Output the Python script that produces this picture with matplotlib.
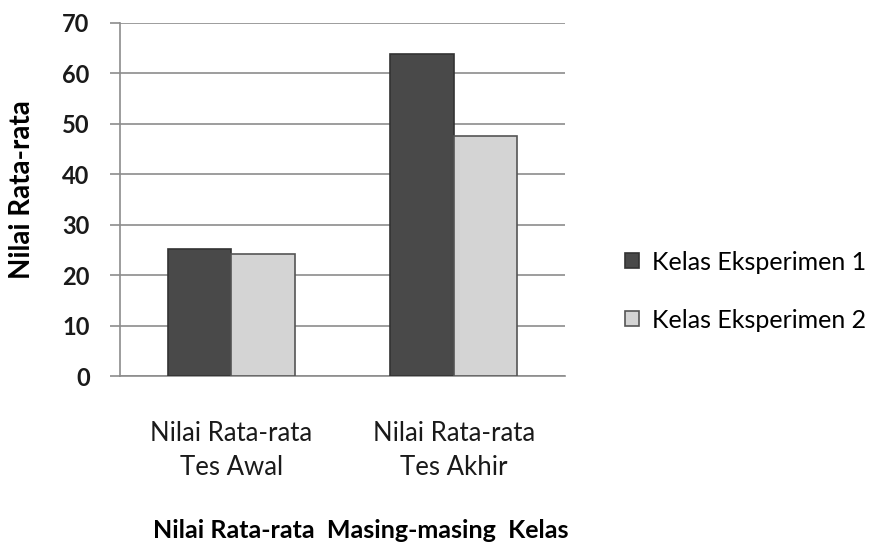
import matplotlib
matplotlib.use("Agg")
import matplotlib.pyplot as plt
import numpy as np

categories = ["Nilai Rata-rata\nTes Awal", "Nilai Rata-rata\nTes Akhir"]
series_names = ["Kelas Eksperimen 1", "Kelas Eksperimen 2"]
eksperimen1 = [25.3, 63.8]
eksperimen2 = [24.3, 47.6]
yticks = [0, 10, 20, 30, 40, 50, 60, 70]

plt.rcParams['font.family'] = ['Lato', 'DejaVu Sans']

fig = plt.figure(figsize=(8.84, 5.46), dpi=100)
ax = fig.add_axes([0.136, 0.311, 0.503, 0.647])

x = np.arange(len(categories))
w = 0.285
ax.bar(x - w/2, eksperimen1, w, color='#494949', edgecolor='#333333', linewidth=1.2,
       label=series_names[0], zorder=3)
ax.bar(x + w/2, eksperimen2, w, color='#d4d4d4', edgecolor='#555555', linewidth=1.2,
       label=series_names[1], zorder=3)

ax.set_xlim(-0.5, 1.5)
ax.set_ylim(0, 70)
ax.set_yticks(yticks)
ax.set_yticklabels([str(t) for t in yticks], fontsize=17, fontweight='bold', color='#1a1a1a')
ax.set_xticks(x)
ax.set_xticklabels(categories, fontsize=18.5, linespacing=1.45, color='#1a1a1a')
ax.tick_params(axis='x', length=0, pad=32)
ax.tick_params(axis='y', length=7, color='#8c8c8c', width=1.2, pad=15)
ax.yaxis.grid(True, color='#8c8c8c', linewidth=1.2, zorder=0)
for s in ['top', 'right']:
    ax.spines[s].set_visible(False)
ax.spines['left'].set_color('#8c8c8c')
ax.spines['left'].set_linewidth(1.2)
ax.spines['bottom'].set_color('#8c8c8c')
ax.spines['bottom'].set_linewidth(1.2)

ax.set_ylabel("Nilai Rata-rata", fontsize=20, fontweight='bold')
ax.yaxis.set_label_coords(-0.192, 0.527)
ax.set_xlabel("Nilai Rata-rata  Masing-masing  Kelas", fontsize=18, fontweight='bold')
ax.xaxis.set_label_coords(0.542, -0.405)

fig.legend(loc='center left', bbox_to_anchor=(0.682, 0.467), frameon=False,
           fontsize=18, handlelength=0.55, handleheight=0.55, labelspacing=1.4, handletextpad=0.5)

fig.savefig("out.png", dpi=100)
